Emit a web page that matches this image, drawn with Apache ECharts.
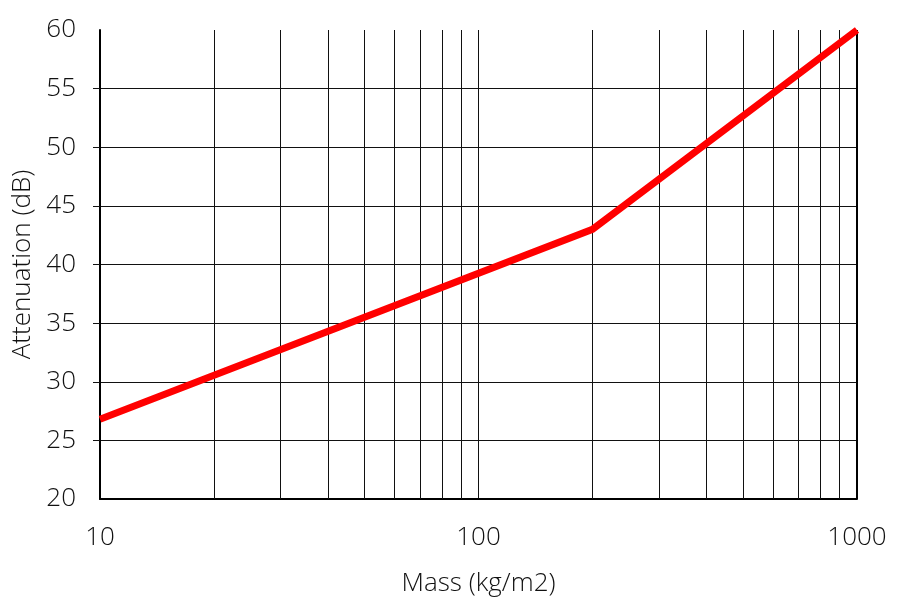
<!DOCTYPE html>
<html>
<head>
<meta charset="utf-8">
<script src="https://cdn.jsdelivr.net/npm/echarts@6/dist/echarts.min.js"></script>
<style>
  html, body { margin: 0; padding: 0; background: #fff; }
  #chart { width: 901px; height: 603px; }
</style>
</head>
<body>
<div id="chart"></div>
<script>
// Attenuation versus surface mass (log scale)
const massValues = [10, 200, 1000];
const attenuationValues = [26.8, 43.0, 60.0];

// Intermediate decade gridlines on the log axis
const minorGridMass = [20, 30, 40, 50, 60, 70, 80, 90, 200, 300, 400, 500, 600, 700, 800, 900];
const yTickValues = [25, 30, 35, 40, 45, 50, 55];

const FONT = '"Open Sans", "Liberation Sans", sans-serif';
const TEXT_COLOR = '#111';
const FONT_SIZE = 26;
const FONT_WEIGHT = 300;

const chart = echarts.init(document.getElementById('chart'), null, { renderer: 'canvas' });

chart.setOption({
  animation: false,
  backgroundColor: '#fff',
  textStyle: { fontFamily: FONT, fontWeight: FONT_WEIGHT },
  grid: { left: 100, right: 44, top: 30, bottom: 104, containLabel: false, outerBoundsMode: 'none' },
  xAxis: {
    type: 'log',
    logBase: 10,
    min: 10,
    max: 1000,
    name: 'Mass (kg/m2)',
    nameLocation: 'middle',
    nameGap: 72,
    nameTextStyle: { fontSize: FONT_SIZE, color: TEXT_COLOR, fontFamily: FONT, fontWeight: FONT_WEIGHT },
    axisLine: { show: true, lineStyle: { color: '#000', width: 2 } },
    axisTick: { show: false },
    axisLabel: {
      fontSize: FONT_SIZE, color: TEXT_COLOR, margin: 26, fontFamily: FONT, fontWeight: FONT_WEIGHT,
      formatter: v => String(v)
    },
    splitLine: { show: true, lineStyle: { color: '#111', width: 1 } }
  },
  yAxis: {
    type: 'value',
    min: 20,
    max: 60,
    interval: 5,
    name: 'Attenuation (dB)',
    nameLocation: 'middle',
    nameGap: 63,
    nameTextStyle: { fontSize: FONT_SIZE, color: TEXT_COLOR, fontFamily: FONT, fontWeight: FONT_WEIGHT },
    axisLine: { show: true, lineStyle: { color: '#000', width: 2 } },
    axisTick: { show: true, length: 7, customValues: yTickValues, lineStyle: { color: '#111', width: 1 } },
    axisLabel: { fontSize: FONT_SIZE, color: TEXT_COLOR, margin: 24, fontFamily: FONT, fontWeight: FONT_WEIGHT },
    splitLine: { show: true, lineStyle: { color: '#111', width: 1 } }
  },
  series: [
    {
      type: 'line',
      data: massValues.map((m, i) => [m, attenuationValues[i]]),
      symbol: 'none',
      lineStyle: { color: '#ff0000', width: 7, cap: 'butt', join: 'miter' },
      z: 5,
      markLine: {
        silent: true,
        symbol: ['none', 'none'],
        label: { show: false },
        lineStyle: { color: '#111', width: 1, type: 'solid' },
        data: minorGridMass.map(v => ({ xAxis: v })).concat([{ xAxis: 1000, lineStyle: { color: '#000', width: 2 } }])
      }
    }
  ]
});
</script>
</body>
</html>
